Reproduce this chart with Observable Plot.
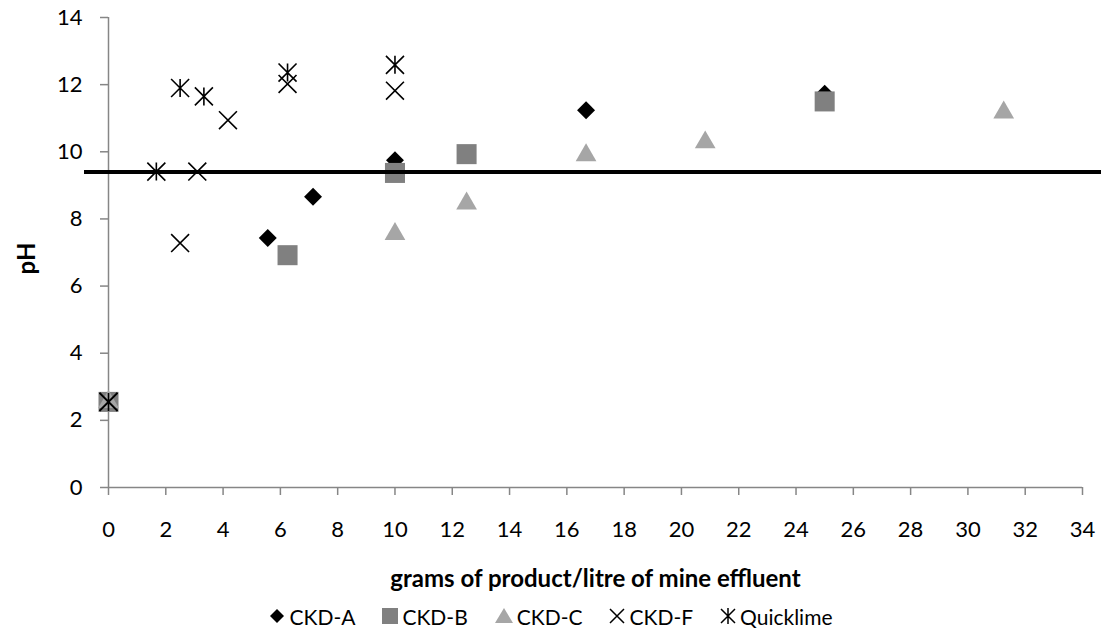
<!DOCTYPE html>
<html>
<head>
<meta charset="utf-8">
<script src="https://cdn.jsdelivr.net/npm/d3@7"></script>
<script src="https://cdn.jsdelivr.net/npm/@observablehq/plot@0.6"></script>
<style>
  html, body { margin: 0; padding: 0; background: #fff; }
  body { width: 1101px; height: 636px; overflow: hidden; font-family: Lato, "Open Sans", sans-serif; color: #000; }
  #legend { display: flex; justify-content: center; align-items: center; height: 40px; font-size: 21px; }
  .item { display: flex; align-items: center; margin: 0 13px; }
  .item svg { margin-right: 3px; }
</style>
</head>
<body>
<div id="chart"></div>
<div id="legend"></div>
<script>
// ---- data ----
const seriesNames = ["CKD-A", "CKD-B", "CKD-C", "CKD-F", "Quicklime"];

const xA = [0, 5.56, 7.14, 10, 16.67, 25];
const yA = [2.55, 7.43, 8.66, 9.75, 11.24, 11.73];

const xB = [0, 6.25, 10, 12.5, 25];
const yB = [2.55, 6.92, 9.37, 9.93, 11.5];

const xC = [0, 10, 12.5, 16.67, 20.83, 31.25];
const yC = [2.55, 7.55, 8.46, 9.9, 10.28, 11.17];

const xF = [0, 2.5, 3.1, 4.17, 6.25, 10];
const yF = [2.55, 7.28, 9.41, 10.94, 12.02, 11.82];

const xQ = [0, 1.67, 2.5, 3.33, 6.25, 10];
const yQ = [2.55, 9.41, 11.9, 11.65, 12.36, 12.59];

const threshold = [9.4];

const xTicks = [0, 2, 4, 6, 8, 10, 12, 14, 16, 18, 20, 22, 24, 26, 28, 30, 32, 34];
const yTicks = [0, 2, 4, 6, 8, 10, 12, 14];

const xTitle = "grams of product/litre of mine effluent";
const yTitle = "pH";

// ---- build ----
const toRows = (xs, ys) => xs.map((x, i) => ({x, y: ys[i]}));
const dA = toRows(xA, yA), dB = toRows(xB, yB), dC = toRows(xC, yC), dF = toRows(xF, yF), dQ = toRows(xQ, yQ);

const asteriskSym = {
  draw(ctx, size) {
    const r = Math.sqrt(size) * 0.62;
    ctx.moveTo(-r, -r); ctx.lineTo(r, r);
    ctx.moveTo(-r, r); ctx.lineTo(r, -r);
    ctx.moveTo(0, -r); ctx.lineTo(0, r);
  }
};

const axisGray = "#868686";

const chart = Plot.plot({
  width: 1101,
  height: 596,
  marginLeft: 108,
  marginRight: 19,
  marginTop: 17,
  marginBottom: 109,
  style: {fontFamily: "Lato, 'Open Sans', sans-serif", fontSize: "22px", color: "#000", background: "#fff", overflow: "visible"},
  x: {domain: [0, 34]},
  y: {domain: [0, 14]},
  marks: [
    Plot.ruleY([0], {stroke: axisGray, strokeWidth: 1.5}),
    Plot.ruleX([0], {stroke: axisGray, strokeWidth: 1.5}),
    Plot.axisX({ticks: xTicks, tickSize: 8, tickPadding: 26, stroke: axisGray, strokeWidth: 1.5, fill: "#000", fontSize: 22, label: null}),
    Plot.axisY({ticks: yTicks, tickSize: 8, tickPadding: 18, stroke: axisGray, strokeWidth: 1.5, fill: "#000", fontSize: 22, label: null}),
    Plot.dot(dA, {x: "x", y: "y", symbol: "diamond2", r: 8.1, fill: "#000", stroke: "none"}),
    Plot.dot(dB, {x: "x", y: "y", symbol: "square", r: 11.3, fill: "#808080", stroke: "none"}),
    Plot.dot(dC, {x: "x", y: "y", symbol: "triangle", r: 7.7, fill: "#a6a6a6", stroke: "none"}),
    Plot.dot(dF, {x: "x", y: "y", symbol: "times", r: 8.2, fill: "none", stroke: "#000", strokeWidth: 1.6}),
    Plot.dot(dQ, {x: "x", y: "y", symbol: asteriskSym, r: 8.2, fill: "none", stroke: "#000", strokeWidth: 1.6}),
    Plot.ruleY(threshold, {stroke: "#000", strokeWidth: 4, insetLeft: -24, insetRight: -19}),
    Plot.text([xTitle], {text: d => d, frameAnchor: "bottom", lineAnchor: "middle", dy: 92, fontWeight: "bold", fontSize: 24, fill: "#000"}),
    Plot.text([yTitle], {text: d => d, frameAnchor: "left", textAnchor: "middle", lineAnchor: "middle", dx: -81, dy: 6, rotate: -90, fontWeight: "bold", fontSize: 24, fill: "#000"})
  ]
});
document.getElementById("chart").appendChild(chart);

// ---- legend ----
const legendIcons = {
  "CKD-A": '<svg width="18" height="18" viewBox="-9 -9 18 18"><path d="M0,-7L7,0L0,7L-7,0Z" fill="#000"/></svg>',
  "CKD-B": '<svg width="18" height="18" viewBox="-9 -9 18 18"><rect x="-8" y="-8" width="16" height="16" fill="#808080"/></svg>',
  "CKD-C": '<svg width="20" height="18" viewBox="-10 -9 20 18"><path d="M0,-8L9,7L-9,7Z" fill="#a6a6a6"/></svg>',
  "CKD-F": '<svg width="18" height="18" viewBox="-9 -9 18 18"><path d="M-7,-7L7,7M-7,7L7,-7" stroke="#000" stroke-width="1.5"/></svg>',
  "Quicklime": '<svg width="18" height="18" viewBox="-9 -9 18 18"><path d="M-7,-7L7,7M-7,7L7,-7M0,-8L0,8" stroke="#000" stroke-width="1.5"/></svg>'
};
const legend = document.getElementById("legend");
seriesNames.forEach(n => {
  const el = document.createElement("div");
  el.className = "item";
  el.innerHTML = legendIcons[n] + "<span>" + n + "</span>";
  legend.appendChild(el);
});
</script>
</body>
</html>
